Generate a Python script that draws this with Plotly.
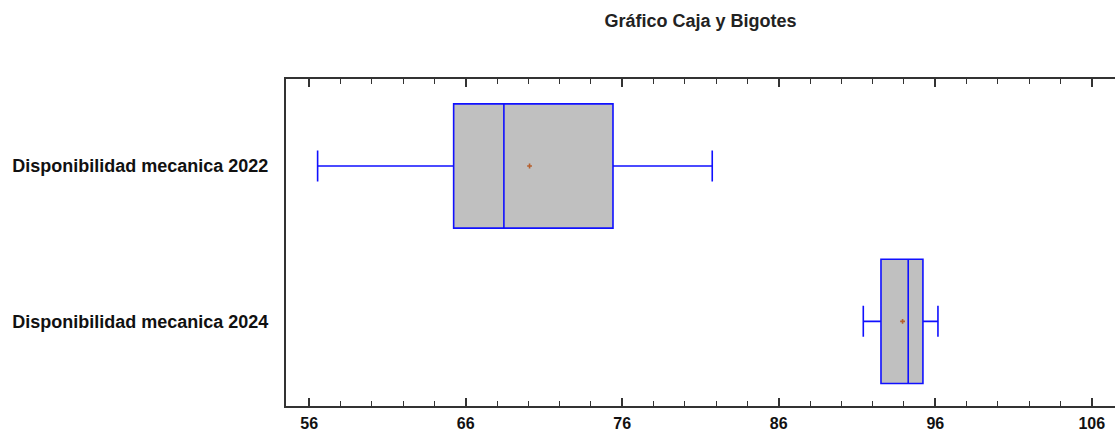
import plotly.graph_objects as go

categories = ["Disponibilidad mecanica 2022", "Disponibilidad mecanica 2024"]
lower_whisker = [56.54, 91.40]
q1 = [65.23, 92.53]
median = [68.44, 94.27]
q3 = [75.41, 95.21]
upper_whisker = [81.75, 96.17]
means = [70.08, 93.91]
tick_vals = [56, 66, 76, 86, 96, 106]

fig = go.Figure()
fig.add_trace(go.Box(
    y=categories, q1=q1, median=median, q3=q3,
    lowerfence=lower_whisker, upperfence=upper_whisker,
    orientation="h", fillcolor="#C0C0C0", width=0.8,
    line=dict(color="#1010FF", width=1.6),
    whiskerwidth=0.25, boxpoints=False, showlegend=False, hoverinfo="skip",
))
fig.add_trace(go.Scatter(
    x=means, y=categories, mode="markers",
    marker=dict(symbol="cross", size=4, color="#B5602F"),
    showlegend=False, hoverinfo="skip",
))
# invisible trace to attach the top axis
fig.add_trace(go.Scatter(
    x=means, y=categories, xaxis="x2", mode="markers",
    marker=dict(opacity=0), showlegend=False, hoverinfo="skip",
))

axis_style = dict(
    range=[54.52, 107.80], tickvals=tick_vals,
    showgrid=False, zeroline=False, automargin=False,
    showline=True, linecolor="#333333", linewidth=2,
    ticks="inside", ticklen=8, tickwidth=1.5, tickcolor="#333333",
    minor=dict(dtick=2, tick0=56, ticks="inside", ticklen=5, tickwidth=1.2, tickcolor="#333333"),
)

fig.update_layout(
    width=1120, height=434,
    margin=dict(l=286, r=0, t=79, b=28, autoexpand=False),
    plot_bgcolor="white", paper_bgcolor="white",
    boxgroupgap=0, boxgap=0.2,
    font=dict(family="Liberation Sans, Arial, sans-serif", color="#000000"),
    title=dict(text="Gráfico Caja y Bigotes", x=700.5 / 1120, xref="container", xanchor="center",
               y=1 - 21 / 434, yref="container", yanchor="middle",
               font=dict(size=18, weight="bold", color="#222222")),
    xaxis=dict(**axis_style, ticktext=[str(v) for v in tick_vals],
               tickfont=dict(size=16, weight="bold", color="#111111"),
               ticklabelstandoff=2),
    xaxis2=dict(**axis_style, overlaying="x", side="top", showticklabels=False),
)
fig.update_yaxes(
    type="category", categoryorder="array", categoryarray=categories,
    range=[1.545, -0.56], showgrid=False, zeroline=False, automargin=False,
    showline=True, mirror=False, linecolor="#333333", linewidth=2, ticks="",
    ticklabelstandoff=12,
    tickfont=dict(size=18, weight="bold", color="#111111"),
)

fig.write_html(
    "out.html",
    config={"displayModeBar": False},
    post_script="document.body.style.margin='0';document.body.style.overflow='hidden';",
)
